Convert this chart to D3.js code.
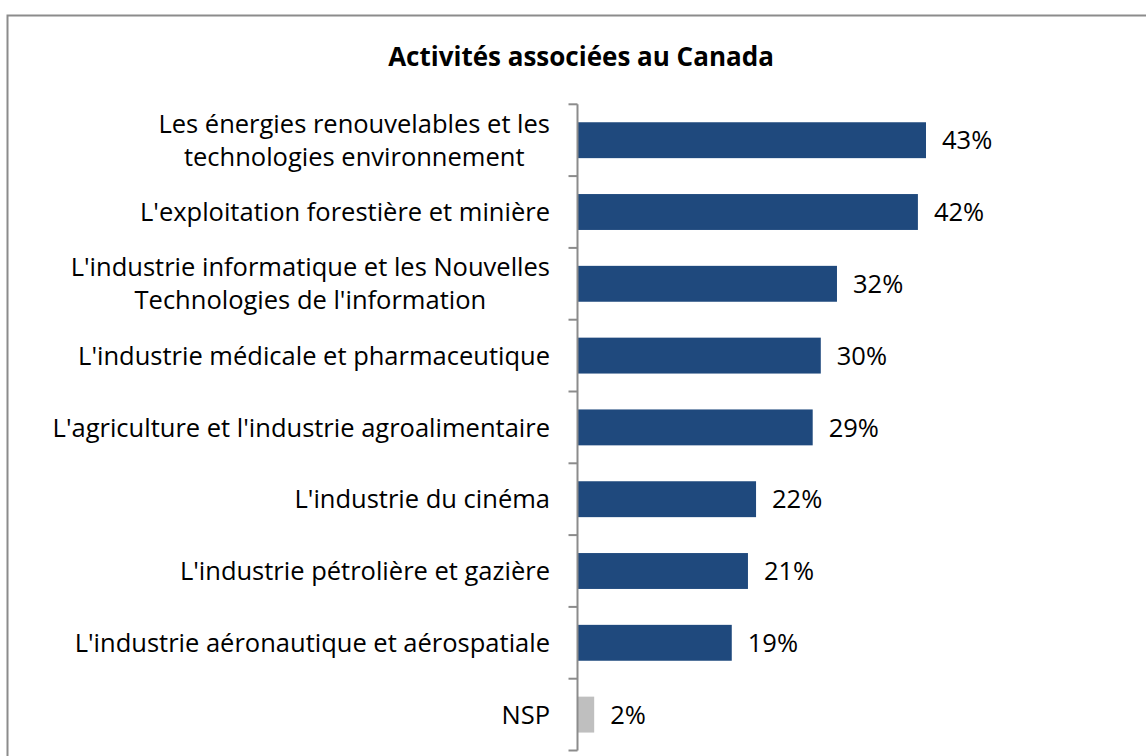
<!DOCTYPE html>
<html>
<head>
<meta charset="utf-8">
<script src="https://cdn.jsdelivr.net/npm/d3@7"></script>
<style>
  body { margin: 0; background: #fff; }
  text { font-family: "Open Sans", sans-serif; fill: #000; }
</style>
</head>
<body>
<script>
'use strict';

// data
const categories = [
  "Les énergies renouvelables et les\ntechnologies environnement",
  "L'exploitation forestière et minière",
  "L'industrie informatique et les Nouvelles\nTechnologies de l'information",
  "L'industrie médicale et pharmaceutique",
  "L'agriculture et l'industrie agroalimentaire",
  "L'industrie du cinéma",
  "L'industrie pétrolière et gazière",
  "L'industrie aéronautique et aérospatiale",
  "NSP"
];
const values = [43, 42, 32, 30, 29, 22, 21, 19, 2];
const title = "Activités associées au Canada";

const width = 1146, height = 756;
const margin = {top: 104, right: 200, bottom: 5, left: 578};
const fontSize = "25.5px";

const svg = d3.select("body").append("svg")
    .attr("width", width)
    .attr("height", height);

// outer frame
svg.append("rect")
    .attr("x", 7.5).attr("y", 15.5)
    .attr("width", width + 10).attr("height", height + 10)
    .attr("fill", "none")
    .attr("stroke", "#8c8c8c")
    .attr("stroke-width", 2);

svg.append("text")
    .attr("x", 581).attr("y", 66)
    .attr("text-anchor", "middle")
    .style("font-size", "26px")
    .style("font-weight", "bold")
    .text(title);

const x = d3.scaleLinear()
    .domain([0, 43])
    .range([margin.left, 926]);

const y = d3.scaleBand()
    .domain(categories)
    .range([104.3, 750.5])
    .paddingInner(0.5)
    .paddingOuter(0.25);

// bars
svg.selectAll(".bar")
    .data(values)
  .enter().append("rect")
    .attr("class", "bar")
    .attr("x", x(0))
    .attr("y", (d, i) => y(categories[i]))
    .attr("width", (d) => x(d) - x(0))
    .attr("height", y.bandwidth())
    .attr("fill", (d, i) => categories[i] === "NSP" ? "#bfbfbf" : "#1f497d");

// value labels
svg.selectAll(".val")
    .data(values)
  .enter().append("text")
    .attr("class", "val")
    .attr("x", (d) => x(d) + 16)
    .attr("y", (d, i) => y(categories[i]) + y.bandwidth() / 2)
    .attr("dy", "0.36em")
    .style("font-size", fontSize)
    .text((d) => d + "%");

// axis line and ticks at band edges
const axisX = margin.left - 0.5;
svg.append("line")
    .attr("x1", axisX).attr("x2", axisX)
    .attr("y1", 104.3).attr("y2", 750.5)
    .attr("stroke", "#8c8c8c").attr("stroke-width", 2);

const step = y.step();
svg.selectAll(".tick")
    .data(d3.range(categories.length + 1))
  .enter().append("line")
    .attr("class", "tick")
    .attr("x1", axisX - 9).attr("x2", axisX)
    .attr("y1", (i) => 104.3 + i * step)
    .attr("y2", (i) => 104.3 + i * step)
    .attr("stroke", "#8c8c8c").attr("stroke-width", 2);

// category labels: block right aligned, lines centred inside block
const labelRight = 550, lineH = 33;
categories.forEach((c, i) => {
  const lines = c.split("\n");
  const cy = y(c) + y.bandwidth() / 2;
  const g = svg.append("g");
  const texts = lines.map((l, j) => g.append("text")
      .attr("y", cy + (j - (lines.length - 1) / 2) * lineH)
      .attr("dy", "0.36em")
      .attr("text-anchor", "middle")
      .style("font-size", fontSize)
      .text(l));
  const w = d3.max(texts, (t) => t.node().getComputedTextLength());
  texts.forEach((t) => t.attr("x", labelRight - w / 2));
});
</script>
</body>
</html>
